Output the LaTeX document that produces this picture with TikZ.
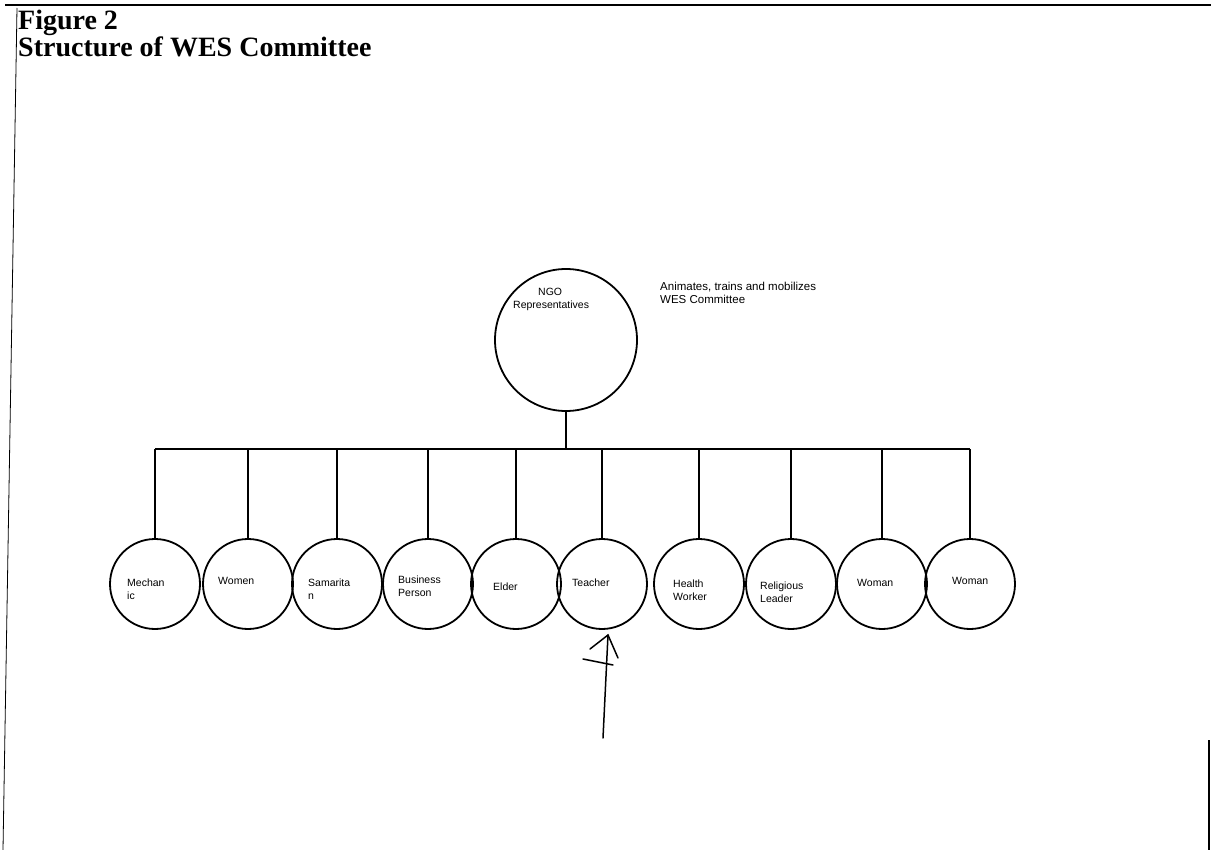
\documentclass[tikz,border=0pt]{standalone}
\usepackage{fontspec}
\setmainfont{Liberation Serif}
\newfontfamily\labelfont{Liberation Sans}
\begin{document}
\begin{tikzpicture}[x=1pt,y=-1pt,
  member/.style={circle,draw,line width=1.8pt,minimum size=90pt,inner sep=0pt},
  lead/.style={circle,draw,line width=1.8pt,minimum size=142pt,inner sep=0pt},
  tag/.style={font=\labelfont\fontsize{10.5}{12.5}\selectfont,align=left,anchor=west,inner sep=0pt},
  link/.style={line width=1.3pt},
  frame/.style={line width=1.1pt}]
\useasboundingbox (0,0) rectangle (1211,850);

% page frame
\coordinate (ftl) at (5,5);
\coordinate (ftr) at (1211,5);
\coordinate (fl1) at (17,8);
\coordinate (fl2) at (3,850);
\coordinate (fr1) at (1209,740);
\coordinate (fr2) at (1209,850);
\draw[frame] (ftl) -- (ftr);
\draw[line width=0.8pt] (fl1) -- (fl2);
\draw[frame] (fr1) -- (fr2);

% heading
\node[anchor=base west,inner sep=0pt,font=\bfseries\fontsize{28}{32}\selectfont] (fig) at (18,30) {Figure 2};
\node[anchor=base west,inner sep=0pt,font=\bfseries\fontsize{28}{32}\selectfont] (ttl) at (18,57) {Structure of WES Committee};

% NGO representatives
\node[lead] (ngo) at (566,340) {};
\node[tag] at (538,292) {NGO};
\node[tag] at (513,306) {Representatives};
\node[tag,font=\labelfont\fontsize{11.5}{13}\selectfont] (note) at (660,293) {Animates, trains and mobilizes\\WES Committee};

% committee members
\node[member] (m1)  at (155,584) {};
\node[member] (m2)  at (248,584) {};
\node[member] (m3)  at (337,584) {};
\node[member] (m4)  at (428,584) {};
\node[member] (m5)  at (516,584) {};
\node[member] (m6)  at (602,584) {};
\node[member] (m7)  at (699,584) {};
\node[member] (m8)  at (791,584) {};
\node[member] (m9)  at (882,584) {};
\node[member] (m10) at (970,584) {};

\node[tag] at (127,589) {Mechan\\ic};
\node[tag] at (218,581) {Women};
\node[tag] at (308,589) {Samarita\\n};
\node[tag] at (398,586) {Business\\Person};
\node[tag] at (493,587) {Elder};
\node[tag] at (572,583) {Teacher};
\node[tag] at (673,590) {Health\\Worker};
\node[tag] at (760,592) {Religious\\Leader};
\node[tag] at (857,583) {Woman};
\node[tag] at (952,581) {Woman};

% tree connectors
\coordinate (bar) at (566,449);
\draw[link] (ngo.south) -- (bar);
\draw[line width=2pt] (m1.north |- bar) -- (m10.north |- bar);
\foreach \m in {m1,m2,m3,m4,m5,m6,m7,m8,m9,m10}
  \draw[link] (\m.north |- bar) -- (\m.north);

% hand-drawn pointer under Teacher
\coordinate (tail) at (603,738);
\coordinate (tip) at (608,635);
\coordinate (hl) at (590,649);
\coordinate (hr) at (618,658);
\coordinate (cl) at (583,659);
\coordinate (cr) at (613,665);
\draw[line width=1.5pt,line cap=round] (tail) -- (tip);
\draw[line width=1.5pt,line cap=round] (hl) -- (tip) -- (hr);
\draw[line width=1.5pt,line cap=round] (cl) -- (cr);
\end{tikzpicture}
\end{document}
